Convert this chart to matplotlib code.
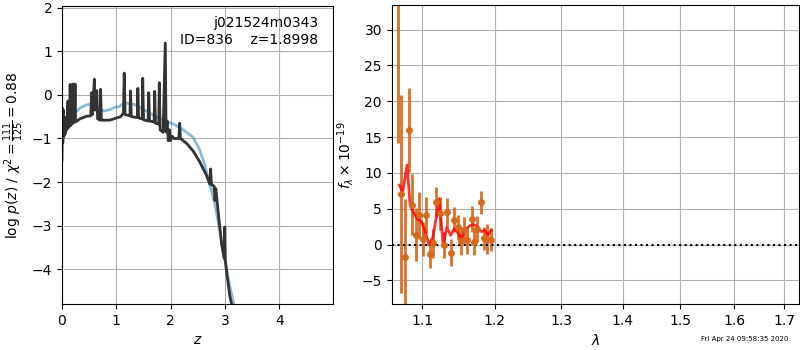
import numpy as np
import matplotlib
matplotlib.use("Agg")
import matplotlib.pyplot as plt
from matplotlib.ticker import FixedLocator, FormatStrFormatter, NullLocator

# ===== P(z) DATA =====
z_pz = [0.000, 0.008, 0.015, 0.025, 0.035, 0.045, 0.055, 0.070, 0.090, 0.110,
        0.120, 0.140, 0.150, 0.160, 0.185, 0.195, 0.205, 0.230, 0.240, 0.250,
        0.330, 0.450, 0.530, 0.545, 0.560, 0.595, 0.610, 0.640, 0.655, 0.700,
        0.710, 0.725, 0.880, 1.000, 1.080, 1.130, 1.145, 1.160, 1.250, 1.260,
        1.275, 1.385, 1.395, 1.410, 1.475, 1.485, 1.500, 1.585, 1.595, 1.610,
        1.695, 1.705, 1.720, 1.780, 1.790, 1.805, 1.860, 1.900, 1.915, 1.935,
        1.955, 1.975, 1.995, 2.030, 2.060, 2.150, 2.165, 2.180, 2.300, 2.420,
        2.540, 2.660, 2.720, 2.735, 2.750, 2.800, 2.815, 2.830, 2.890, 2.940,
        2.985, 2.995, 3.005, 3.040, 3.090, 3.140]
logp_pz = [-1.50, -0.30, -1.10, -0.35, -0.95, -0.50, -0.90, -0.75, -0.80, -0.14,
           -0.75, -0.65, 0.24, -0.70, -0.65, 0.25, -0.65, -0.60, 0.25, -0.62,
           -0.55, -0.49, -0.48, 0.05, -0.45, 0.36, -0.35, 0.10, -0.55, -0.58,
           0.13, -0.58, -0.58, -0.53, -0.50, -0.42, 0.50, -0.45, -0.48, 0.09,
           -0.50, -0.52, 0.15, -0.53, -0.55, 0.38, -0.57, -0.60, 0.05, -0.60,
           -0.62, 0.08, -0.65, -0.67, 0.28, -0.80, -0.86, 1.19, -0.85, -0.60,
           -1.05, -0.80, -1.05, -0.95, -1.00, -1.00, -0.65, -1.00, -1.12, -1.30,
           -1.55, -1.85, -2.05, -1.70, -2.05, -2.10, -2.42, -2.15, -2.88, -3.45,
           -3.75, -3.03, -3.80, -4.17, -4.63, -4.90]

z_prior = [0.00, 0.04, 0.085, 0.21, 0.33, 0.45, 0.55, 0.64, 0.77, 0.88,
           0.98, 1.05, 1.15, 1.33, 1.45, 1.59, 1.77, 2.05, 2.23, 2.41,
           2.53, 2.63, 2.72, 2.81, 2.90, 2.99, 3.09, 3.18]
logp_prior = [-1.10, -0.85, -0.72, -0.45, -0.30, -0.23, -0.21, -0.27, -0.37, -0.34,
              -0.28, -0.27, -0.18, -0.22, -0.30, -0.40, -0.53, -0.67, -0.80, -0.97,
              -1.25, -1.62, -2.05, -2.50, -3.10, -3.75, -4.40, -4.90]

# ===== SPECTRUM DATA =====
wave = [1.0683, 1.0722, 1.0769, 1.0821, 1.0864, 1.0912, 1.0961, 1.1005, 1.1049, 1.1102,
        1.1137, 1.1187, 1.1236, 1.1295, 1.1336, 1.1381, 1.1422, 1.1477, 1.1519, 1.1570,
        1.1607, 1.1672, 1.1705, 1.1748, 1.1800, 1.1842, 1.1894, 1.1952]
flux = [35.0, 7.1, -1.7, 16.0, 5.6, 1.4, 4.1, 0.8, 4.1, -1.3,
        0.2, 6.0, 4.4, 0.0, 4.5, -1.1, 3.5, 2.4, 0.5, 2.0,
        0.6, 3.6, 0.4, 2.2, 5.9, 0.9, 0.8, 0.7]
err = [20.8, 13.8, 8.0, 5.8, 4.2, 3.7, 3.3, 2.4, 2.5, 2.0,
       2.0, 2.0, 2.3, 1.8, 2.0, 1.9, 1.8, 1.8, 2.0, 1.8,
       1.9, 1.8, 1.9, 1.8, 1.6, 1.6, 2.1, 1.6]

wave_model = [1.0702, 1.0745, 1.0800, 1.0840, 1.0890, 1.0940, 1.0985, 1.1030, 1.1090, 1.1140,
              1.1190, 1.1225, 1.1280, 1.1330, 1.1380, 1.1430, 1.1480, 1.1530, 1.1580, 1.1640,
              1.1700, 1.1760, 1.1810, 1.1860, 1.1900, 1.1950]
flux_model = [8.3, 7.3, 11.1, 5.6, 4.4, 3.5, 3.3, 2.1, 0.0, 1.0,
              4.0, 6.4, 0.0, 2.4, 1.3, 2.2, 1.7, 0.8, 2.0, 2.6,
              2.8, 2.5, 1.8, 2.0, 1.3, 2.0]

wave_ticks = [1.1, 1.2, 1.3, 1.4, 1.5, 1.6, 1.7]

# ===== PLOT =====
fig = plt.figure(figsize=(8, 3.5), dpi=100)
ax1 = fig.add_axes([0.0775, 0.131, 0.339, 0.852])
ax2 = fig.add_axes([0.4896, 0.131, 0.5095, 0.854])

ax1.plot(z_prior, logp_prior, color="#1f77b4", alpha=0.5, lw=2)
ax1.plot(z_pz, logp_pz, color="0.2", lw=2)
ax1.set_xlim(0, 4.99)
ax1.set_ylim(-4.8, 2.04)
ax1.set_xticks([0, 1, 2, 3, 4])
ax1.set_yticks([-4, -3, -2, -1, 0, 1, 2])
ax1.grid()
ax1.set_xlabel(r"$z$")
ax1.set_ylabel(r"$\log\,p(z)$ / $\chi^2=\frac{111}{125}=0.88$")
ax1.text(0.945, 0.965, "j021524m0343\nID=836    z=1.8998", transform=ax1.transAxes,
         ha="right", va="top", fontsize=10)

ax2.errorbar(wave, flux, err, color="#d8691c", marker="o", ms=4, lw=2,
             linestyle="none", alpha=0.95)
ax2.plot(wave_model, flux_model, color="r", alpha=0.8, lw=2)
ax2.axhline(0, color="k", linestyle=":", lw=1.5)
ax2.set_xscale("log")
ax2.set_xlim(1.0603, 1.7305)
ax2.set_ylim(-8.3, 33.4)
ax2.xaxis.set_major_locator(FixedLocator(wave_ticks))
ax2.xaxis.set_major_formatter(FormatStrFormatter("%.1f"))
ax2.xaxis.set_minor_locator(NullLocator())
ax2.grid()
ax2.set_xlabel(r"$\lambda$")
ax2.set_ylabel(r"$f_\lambda \times 10^{-19}$")

fig.text(0.985, 0.03, "Fri Apr 24 09:58:35 2020", ha="right", va="center", fontsize=5)

plt.savefig("out.png", dpi=100)
